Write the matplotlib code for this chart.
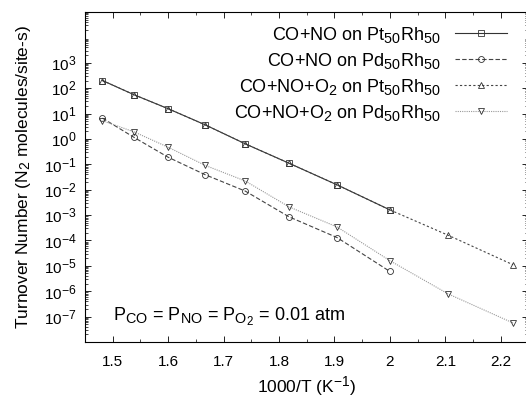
import matplotlib
matplotlib.use("Agg")
import matplotlib.pyplot as plt
import matplotlib._mathtext as mtext
from matplotlib.ticker import LogLocator, MultipleLocator, NullFormatter

plt.rcParams['font.family'] = ['Liberation Sans', 'DejaVu Sans']
plt.rcParams['mathtext.fontset'] = 'custom'
plt.rcParams['mathtext.rm'] = 'Liberation Sans'
plt.rcParams['mathtext.it'] = 'Liberation Sans:italic'
plt.rcParams['mathtext.bf'] = 'Liberation Sans:bold'
# gnuplot-style sub/superscripts are bigger than mathtext's default
mtext.SHRINK_FACTOR = 0.8

# 1000/T for T = 675 ... 450 K
x_all = [1000/675, 1000/650, 1000/625, 1000/600, 1000/575, 1000/550,
         1000/525, 1000/500, 1000/475, 1000/450]

pt_co_no = [200, 55, 15.5, 3.6, 0.64, 0.11, 0.0155, 1.6e-3]
pd_co_no = [6.6, 1.15, 0.19, 0.039, 0.0088, 8.5e-4, 1.3e-4, 6e-6]
pt_co_no_o2 = [200, 55, 15.5, 3.6, 0.64, 0.11, 0.0155, 1.6e-3, 1.6e-4, 1.1e-5]
pd_co_no_o2 = [5.2, 1.9, 0.47, 0.091, 0.022, 2.1e-3, 3.4e-4, 1.6e-5, 7.8e-7, 5.6e-8]

labels = [r'CO+NO on Pt$_{50}$Rh$_{50}$',
          r'CO+NO on Pd$_{50}$Rh$_{50}$',
          r'CO+NO+O$_2$ on Pt$_{50}$Rh$_{50}$',
          r'CO+NO+O$_2$ on Pd$_{50}$Rh$_{50}$']
series = [pt_co_no, pd_co_no, pt_co_no_o2, pd_co_no_o2]
markers = ['s', 'o', '^', 'v']
colors = ['#333333', '#444444', '#444444', '#999999']
linestyles = ['-', (0, (4, 2)), (0, (2, 2)), (0, (1, 1))]

fig = plt.figure(figsize=(5.26, 3.99), dpi=100)
ax = fig.add_axes([85/526, 57/399, 443.5/526, 330/399])

for y, lab, m, c, ls in zip(series, labels, markers, colors, linestyles):
    ax.plot(x_all[:len(y)], y, linestyle=ls, color=c, lw=0.8, marker=m,
            markersize=4.3, markerfacecolor='none', markeredgecolor='#333333',
            markeredgewidth=0.6, label=lab)

ax.set_yscale('log')
ax.set_xlim(1.45, 2.25)
ax.set_ylim(1e-8, 1e5)
ax.set_xticks([1.5, 1.6, 1.7, 1.8, 1.9, 2.0, 2.1, 2.2])
ax.set_xticklabels(['1.5', '1.6', '1.7', '1.8', '1.9', '2', '2.1', '2.2'])
ax.xaxis.set_minor_locator(MultipleLocator(0.05))
ax.set_yticks([10.0**k for k in range(-7, 4)])
ax.yaxis.set_minor_locator(LogLocator(base=10, subs=range(2, 10), numticks=30))
ax.yaxis.set_minor_formatter(NullFormatter())
ax.tick_params(which='both', direction='in', top=True, right=True, labelsize=11)
ax.tick_params(axis='x', which='major', pad=9)
ax.tick_params(axis='y', which='major', pad=6)
ax.tick_params(which='major', length=4, width=0.6)
ax.tick_params(which='minor', length=2, width=0.5)
for s in ax.spines.values():
    s.set_linewidth(0.8)

ax.set_xlabel(r'1000/T (K$^{-1}$)', fontsize=12.5, labelpad=4)
ax.set_ylabel(r'Turnover Number (N$_2$ molecules/site-s)', fontsize=12.5, labelpad=8)

ax.text(1.5, 1e-7, r'P$_{\rm CO}$ = P$_{\rm NO}$ = P$_{\rm O_2}$ = 0.01 atm',
        fontsize=13, va='center', ha='left')

ax.legend(loc='upper right', bbox_to_anchor=(0.98, 1.0), frameon=False,
          markerfirst=False, fontsize=13, handlelength=2.9,
          handletextpad=0.75, labelspacing=0.33, borderaxespad=0.3)

fig.savefig('out.png', dpi=100)
